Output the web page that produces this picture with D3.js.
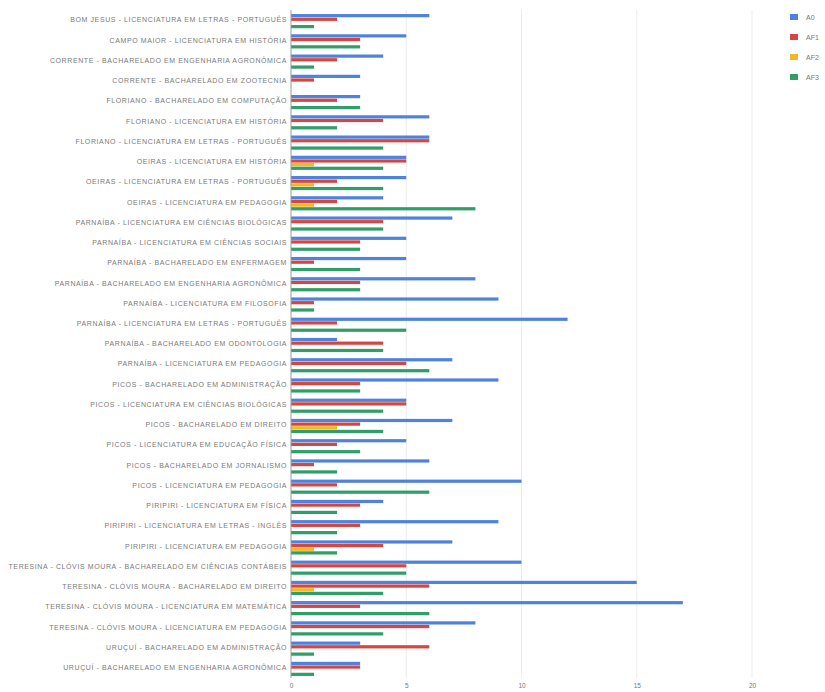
<!DOCTYPE html>
<html>
<head>
<meta charset="utf-8">
<script src="https://cdn.jsdelivr.net/npm/d3@7"></script>
<style>
  html, body { margin: 0; padding: 0; background: #fff; }
  svg { display: block; }
  .cat text { font-family: "Liberation Sans", Arial, sans-serif; font-size: 7px; fill: #7a7a7a; letter-spacing: 0.6px; }
  .xaxis text { font-family: "Liberation Sans", Arial, sans-serif; font-size: 6.5px; fill: #777; }
  .legend text { font-family: "Liberation Sans", Arial, sans-serif; font-size: 7px; fill: #777; }
</style>
</head>
<body>
<svg id="chart" width="825" height="692"></svg>
<script>
// Campus - course pairs
const categories = [
  "BOM JESUS - LICENCIATURA EM LETRAS - PORTUGUÊS",
  "CAMPO MAIOR - LICENCIATURA EM HISTÓRIA",
  "CORRENTE - BACHARELADO EM ENGENHARIA AGRONÔMICA",
  "CORRENTE - BACHARELADO EM ZOOTECNIA",
  "FLORIANO - BACHARELADO EM COMPUTAÇÃO",
  "FLORIANO - LICENCIATURA EM HISTÓRIA",
  "FLORIANO - LICENCIATURA EM LETRAS - PORTUGUÊS",
  "OEIRAS - LICENCIATURA EM HISTÓRIA",
  "OEIRAS - LICENCIATURA EM LETRAS - PORTUGUÊS",
  "OEIRAS - LICENCIATURA EM PEDAGOGIA",
  "PARNAÍBA - LICENCIATURA EM CIÊNCIAS BIOLÓGICAS",
  "PARNAÍBA - LICENCIATURA EM CIÊNCIAS SOCIAIS",
  "PARNAÍBA - BACHARELADO EM ENFERMAGEM",
  "PARNAÍBA - BACHARELADO EM ENGENHARIA AGRONÔMICA",
  "PARNAÍBA - LICENCIATURA EM FILOSOFIA",
  "PARNAÍBA - LICENCIATURA EM LETRAS - PORTUGUÊS",
  "PARNAÍBA - BACHARELADO EM ODONTOLOGIA",
  "PARNAÍBA - LICENCIATURA EM PEDAGOGIA",
  "PICOS - BACHARELADO EM ADMINISTRAÇÃO",
  "PICOS - LICENCIATURA EM CIÊNCIAS BIOLÓGICAS",
  "PICOS - BACHARELADO EM DIREITO",
  "PICOS - LICENCIATURA EM EDUCAÇÃO FÍSICA",
  "PICOS - BACHARELADO EM JORNALISMO",
  "PICOS - LICENCIATURA EM PEDAGOGIA",
  "PIRIPIRI - LICENCIATURA EM FÍSICA",
  "PIRIPIRI - LICENCIATURA EM LETRAS - INGLÊS",
  "PIRIPIRI - LICENCIATURA EM PEDAGOGIA",
  "TERESINA - CLÓVIS MOURA - BACHARELADO EM CIÊNCIAS CONTÁBEIS",
  "TERESINA - CLÓVIS MOURA - BACHARELADO EM DIREITO",
  "TERESINA - CLÓVIS MOURA - LICENCIATURA EM MATEMÁTICA",
  "TERESINA - CLÓVIS MOURA - LICENCIATURA EM PEDAGOGIA",
  "URUÇUÍ - BACHARELADO EM ADMINISTRAÇÃO",
  "URUÇUÍ - BACHARELADO EM ENGENHARIA AGRONÔMICA"
];

const seriesNames = ["A0", "AF1", "AF2", "AF3"];
const A0  = [6,5,4,3,3,6,6,5,5,4,7,5,5,8,9,12,2,7,9,5,7,5,6,10,4,9,7,10,15,17,8,3,3];
const AF1 = [2,3,2,1,2,4,6,5,2,2,4,3,1,3,1,2,4,5,3,5,3,2,1,2,3,3,4,5,6,3,6,6,3];
const AF2 = [0,0,0,0,0,0,0,1,1,1,0,0,0,0,0,0,0,0,0,0,2,0,0,0,0,0,1,0,1,0,0,0,0];
const AF3 = [1,3,1,0,3,2,4,4,4,8,4,3,3,3,1,5,4,6,3,4,4,3,2,6,2,2,2,5,4,6,4,1,1];
const xTicks = [0, 5, 10, 15, 20];
const colors = ["#4f82dc", "#d4463f", "#f2b824", "#2f9e68"];

const seriesValues = [A0, AF1, AF2, AF3];
const rows = categories.map((c, i) => ({
  name: c,
  values: seriesNames.map((s, k) => ({ key: s, value: seriesValues[k][i] }))
}));

const svg = d3.select("#chart");
const plotTop = 10;
const plotBottom = 678;
const xMax = 20;

const x = d3.scaleLinear().domain([0, xMax]).range([291, 752]);
const y = d3.scaleBand().domain(categories).range([plotTop, plotBottom]).paddingInner(0.3).paddingOuter(0.15);
const ySub = d3.scaleBand().domain(seriesNames).range([0, y.bandwidth()]).paddingInner(0.12);

// vertical gridlines
svg.append("g")
  .selectAll("line")
  .data(xTicks.filter(t => t > 0))
  .join("line")
  .attr("x1", d => x(d)).attr("x2", d => x(d))
  .attr("y1", plotTop).attr("y2", plotBottom)
  .attr("stroke", "#ececec").attr("stroke-width", 1);

// bars
const groups = svg.append("g")
  .selectAll("g")
  .data(rows)
  .join("g")
  .attr("transform", d => `translate(0,${y(d.name) + 1})`);

groups.selectAll("rect")
  .data(d => d.values.filter(v => v.value > 0))
  .join("rect")
  .attr("x", x(0))
  .attr("y", d => ySub(d.key))
  .attr("width", d => x(d.value) - x(0))
  .attr("height", ySub.bandwidth())
  .attr("fill", d => colors[seriesNames.indexOf(d.key)]);

// baseline
svg.append("line")
  .attr("x1", x(0)).attr("x2", x(0))
  .attr("y1", plotTop).attr("y2", plotBottom)
  .attr("stroke", "#999").attr("stroke-width", 1);

// category labels
const yAxis = svg.append("g")
  .attr("class", "cat")
  .attr("transform", `translate(${x(0)},0)`)
  .call(d3.axisLeft(y).tickSize(0).tickPadding(4));
yAxis.select(".domain").remove();

// value axis
const xAxis = svg.append("g")
  .attr("class", "xaxis")
  .attr("transform", `translate(0,${plotBottom})`)
  .call(d3.axisBottom(x).tickValues(xTicks).tickSize(0).tickPadding(5));
xAxis.select(".domain").remove();

// legend
const legend = svg.append("g")
  .attr("class", "legend")
  .attr("transform", "translate(790,14)");
const item = legend.selectAll("g")
  .data(seriesNames)
  .join("g")
  .attr("transform", (d, i) => `translate(0,${i * 20})`);
item.append("rect")
  .attr("width", 8).attr("height", 6)
  .attr("fill", (d, i) => colors[i]);
item.append("text")
  .attr("x", 16).attr("y", 6)
  .text(d => d);
</script>
</body>
</html>
